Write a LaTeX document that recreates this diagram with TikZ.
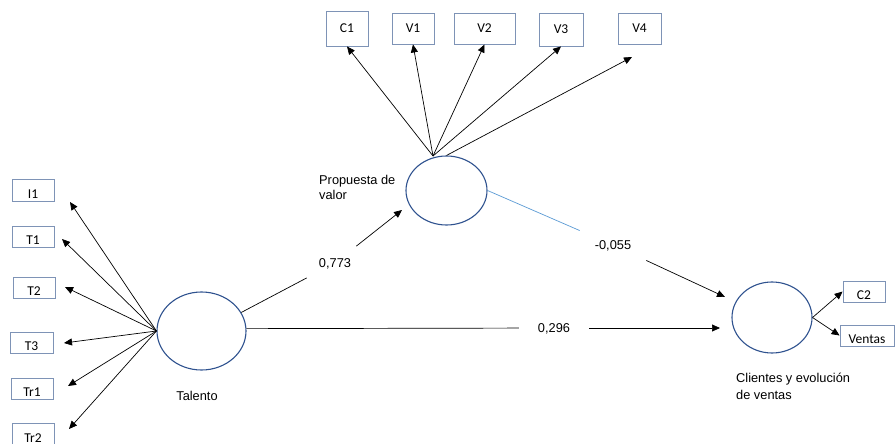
\documentclass[tikz,border=0pt]{standalone}
\usepackage{fontspec}
\setmainfont{Liberation Sans}
\newfontfamily\boxfont{Carlito}
\usetikzlibrary{arrows.meta,shapes.geometric}
\definecolor{latentblue}{HTML}{2F528F}
\definecolor{boxblue}{HTML}{7E93B6}
\definecolor{lineblue}{HTML}{5B9BD5}

\begin{document}
\begin{tikzpicture}[x=1pt,y=-1pt,
  every node/.style={font=\fontsize{12.8}{16}\selectfont},
  latent/.style={ellipse, draw=latentblue, line width=1.1pt, inner sep=0pt},
  ind/.style={rectangle, draw=boxblue, line width=0.9pt, inner sep=0pt,
    font=\boxfont\fontsize{13.5}{16}\selectfont, text height=16pt, text depth=0pt},
  indtall/.style={ind, text height=9pt},
  link/.style={draw=black, line width=0.7pt},
  arr/.style={link, -{Triangle[length=8pt,width=7pt]}},
  coef/.style={inner xsep=12pt, inner ysep=12pt, text height=9.2pt, text depth=0pt},
]
\useasboundingbox[fill=white] (0,0) rectangle (895,444);

% latent constructs
\node[latent, minimum width=89pt, minimum height=78pt] (tal) at (201.5,331) {};
\node[latent, minimum width=81pt, minimum height=69pt] (pv)  at (446.5,190.5) {};
\node[latent, minimum width=80pt, minimum height=71pt] (cl)  at (772,317.5) {};

\node[anchor=base] (talname) at (197,400) {Talento};
\node[anchor=north west, inner sep=0pt, align=left, font=\fontsize{12.8}{15}\selectfont]
  (pvname) at (319,174.6) {Propuesta de\\valor};
\node[anchor=north west, inner sep=0pt, align=left, font=\fontsize{12.8}{16.6}\selectfont]
  (clname) at (736,373.3) {Clientes y evolución\\de ventas};

% indicators of Talento
\node[ind, minimum width=42pt, minimum height=22pt] (I1)  at (33,190)    {I1};
\node[ind, minimum width=42pt, minimum height=21pt] (T1)  at (33,236.5)  {T1};
\node[ind, minimum width=42pt, minimum height=21pt] (T2)  at (34,287.5)  {T2};
\node[ind, minimum width=43pt, minimum height=21pt] (T3)  at (31.5,342.5){T3};
\node[ind, minimum width=42pt, minimum height=21pt] (Tr1) at (32,388.5)  {Tr1};
\node[ind, minimum width=42pt, minimum height=22pt] (Tr2) at (33,434)    {Tr2};

% indicators of Propuesta de valor
\node[indtall, minimum width=42pt, minimum height=35pt] (C1) at (347,28.5)   {C1};
\node[indtall, minimum width=42pt, minimum height=31pt] (V1) at (413,28.5)   {V1};
\node[indtall, minimum width=61pt, minimum height=31pt] (V2) at (484.5,28.5) {V2};
\node[indtall, minimum width=44pt, minimum height=33pt] (V3) at (561,29.5)   {V3};
\node[indtall, minimum width=43pt, minimum height=31pt] (V4) at (639.5,28.5) {V4};

% indicators of Clientes y evolucion de ventas
\node[ind, minimum width=42pt, minimum height=21pt] (C2)     at (864,291.5) {C2};
\node[ind, minimum width=54pt, minimum height=21pt] (Ventas) at (867,335.5) {Ventas};

% path coefficients
\node[coef] (l773) at (335,263) {0,773};
\node[coef, inner xsep=19pt] (l296) at (554,328) {0,296};
\node[coef, inner xsep=15pt] (l055) at (613,245) {-0,055};

% free arrow ends
\coordinate (tI1)  at (70,202);
\coordinate (tT1)  at (62,239);
\coordinate (tT2)  at (65,287);
\coordinate (tT3)  at (64,343);
\coordinate (tTr1) at (68,386);
\coordinate (tTr2) at (69,429);
\coordinate (pvtop) at (433,156);
\coordinate (tV4)  at (632,57);
\coordinate (t773) at (402,210);
\coordinate (t296) at (720,328);
\coordinate (t055) at (725,297);

% loadings
\foreach \t in {I1,T1,T2,T3,Tr1,Tr2} \draw[arr] (tal.west) -- (t\t);
\foreach \b in {C1,V1,V2,V3} \draw[arr] (pvtop) -- (\b.south);
\draw[arr] (pv.north) -- (tV4);
\draw[arr] (cl.east) -- (C2.west);
\draw[arr] (cl.east) -- (Ventas.west);

% structural paths
\draw[link] (tal.25) -- (l773);
\draw[arr]  (l773) -- (t773);
\draw[link] (tal.3) -- (l296);
\draw[arr]  (l296) -- (t296);
\draw[link, draw=lineblue] (pv.east) -- (l055);
\draw[arr]  (l055) -- (t055);
\end{tikzpicture}
\end{document}
